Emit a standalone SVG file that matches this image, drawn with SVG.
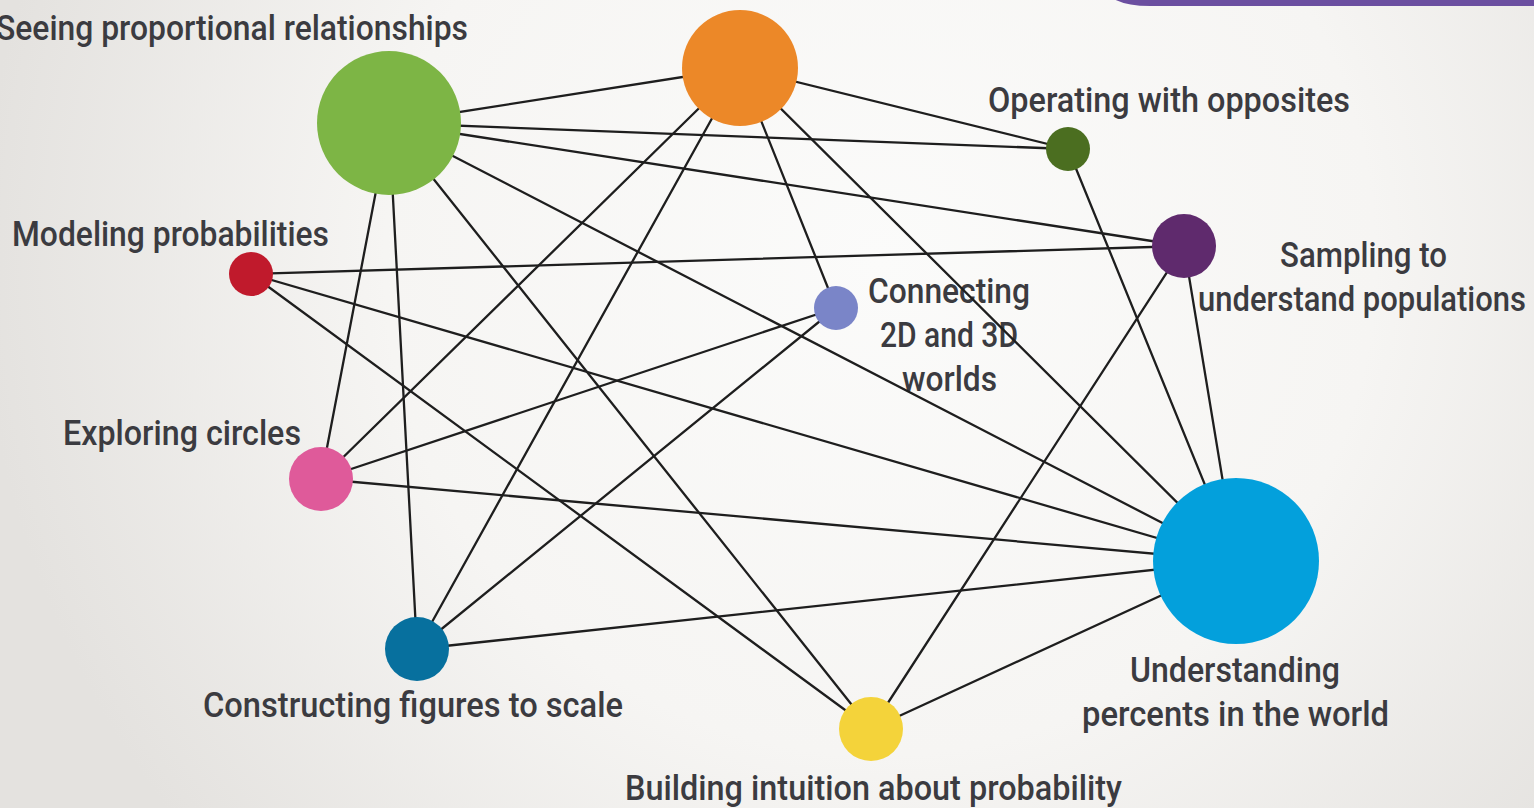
<svg xmlns="http://www.w3.org/2000/svg" width="1534" height="808" viewBox="0 0 1534 808">
  <defs>
    <radialGradient id="bg" cx="880" cy="260" r="900" gradientUnits="userSpaceOnUse">
      <stop offset="0" stop-color="#fbfbfa"/>
      <stop offset="0.55" stop-color="#f6f5f3"/>
      <stop offset="1" stop-color="#e4e2df"/>
    </radialGradient>
    <style>
      .lbl { font-family: "Roboto", "DejaVu Sans Condensed", sans-serif; font-size: 35px; fill: #3b3b40; font-weight: 500; }
      .edges line { stroke: #1e1e1e; stroke-width: 2.3; stroke-linecap: round; }
    </style>
  </defs>

  <!-- backdrop -->
  <rect width="1534" height="808" fill="url(#bg)"/>
  <path d="M1112 -2 Q1125 6 1150 6 L1534 6 L1534 -2 Z" fill="#6b4fa0"/>

  <!-- labels sit under the connectors -->
  <g id="labels">
    <text class="lbl" x="-4" y="40" textLength="472" lengthAdjust="spacingAndGlyphs">Seeing proportional relationships</text>
    <text class="lbl" x="12" y="246" textLength="317" lengthAdjust="spacingAndGlyphs">Modeling probabilities</text>
    <text class="lbl" x="988" y="112" textLength="362" lengthAdjust="spacingAndGlyphs">Operating with opposites</text>
    <text class="lbl" x="1280" y="267" textLength="167" lengthAdjust="spacingAndGlyphs">Sampling to</text>
    <text class="lbl" x="1198" y="311" textLength="328" lengthAdjust="spacingAndGlyphs">understand populations</text>
    <text class="lbl" x="868" y="303" textLength="162" lengthAdjust="spacingAndGlyphs">Connecting</text>
    <text class="lbl" x="880" y="347" textLength="138" lengthAdjust="spacingAndGlyphs">2D and 3D</text>
    <text class="lbl" x="902" y="391" textLength="95" lengthAdjust="spacingAndGlyphs">worlds</text>
    <text class="lbl" x="63" y="445" textLength="238" lengthAdjust="spacingAndGlyphs">Exploring circles</text>
    <text class="lbl" x="1130" y="682" textLength="210" lengthAdjust="spacingAndGlyphs">Understanding</text>
    <text class="lbl" x="1082" y="726" textLength="307" lengthAdjust="spacingAndGlyphs">percents in the world</text>
    <text class="lbl" x="203" y="717" textLength="420" lengthAdjust="spacingAndGlyphs">Constructing figures to scale</text>
    <text class="lbl" x="625" y="800" textLength="497" lengthAdjust="spacingAndGlyphs">Building intuition about probability</text>
  </g>

  <!-- connectors -->
  <g class="edges" id="edges">
    <!-- from proportional relationships -->
    <line x1="389" y1="123" x2="740" y2="68"/>
    <line x1="389" y1="123" x2="1068" y2="149"/>
    <line x1="389" y1="123" x2="1184" y2="246"/>
    <line x1="389" y1="123" x2="1236" y2="561"/>
    <line x1="389" y1="123" x2="871" y2="729"/>
    <line x1="389" y1="123" x2="321" y2="479"/>
    <line x1="389" y1="123" x2="417" y2="649"/>
    <!-- from orange -->
    <line x1="740" y1="68" x2="1068" y2="149"/>
    <line x1="740" y1="68" x2="321" y2="479"/>
    <line x1="740" y1="68" x2="417" y2="649"/>
    <line x1="740" y1="68" x2="836" y2="308"/>
    <line x1="740" y1="68" x2="1236" y2="561"/>
    <!-- opposites, sampling -->
    <line x1="1068" y1="149" x2="1236" y2="561"/>
    <line x1="1184" y1="246" x2="251" y2="274"/>
    <line x1="1184" y1="246" x2="1236" y2="561"/>
    <line x1="1184" y1="246" x2="871" y2="729"/>
    <!-- modeling probabilities -->
    <line x1="251" y1="274" x2="1236" y2="561"/>
    <line x1="251" y1="274" x2="871" y2="729"/>
    <!-- 2D and 3D -->
    <line x1="836" y1="308" x2="321" y2="479"/>
    <line x1="836" y1="308" x2="417" y2="649"/>
    <!-- remaining links into percents -->
    <line x1="321" y1="479" x2="1236" y2="561"/>
    <line x1="417" y1="649" x2="1236" y2="561"/>
    <line x1="871" y1="729" x2="1236" y2="561"/>
  </g>

  <!-- nodes -->
  <g id="node-proportional"><circle cx="389" cy="123" r="72" fill="#7db545"/></g>
  <g id="node-orange"><circle cx="740" cy="68" r="58" fill="#ec8828"/></g>
  <g id="node-opposites"><circle cx="1068" cy="149" r="22" fill="#4b6e20"/></g>
  <g id="node-sampling"><circle cx="1184" cy="246" r="32" fill="#5f2a6d"/></g>
  <g id="node-modeling"><circle cx="251" cy="274" r="22" fill="#c01a2c"/></g>
  <g id="node-2d3d"><circle cx="836" cy="308" r="22" fill="#7a85c8"/></g>
  <g id="node-circles"><circle cx="321" cy="479" r="32" fill="#df5a9a"/></g>
  <g id="node-percents"><circle cx="1236" cy="561" r="83" fill="#03a0dc"/></g>
  <g id="node-scale"><circle cx="417" cy="649" r="32" fill="#07709e"/></g>
  <g id="node-intuition"><circle cx="871" cy="729" r="32" fill="#f4d33a"/></g>
</svg>
